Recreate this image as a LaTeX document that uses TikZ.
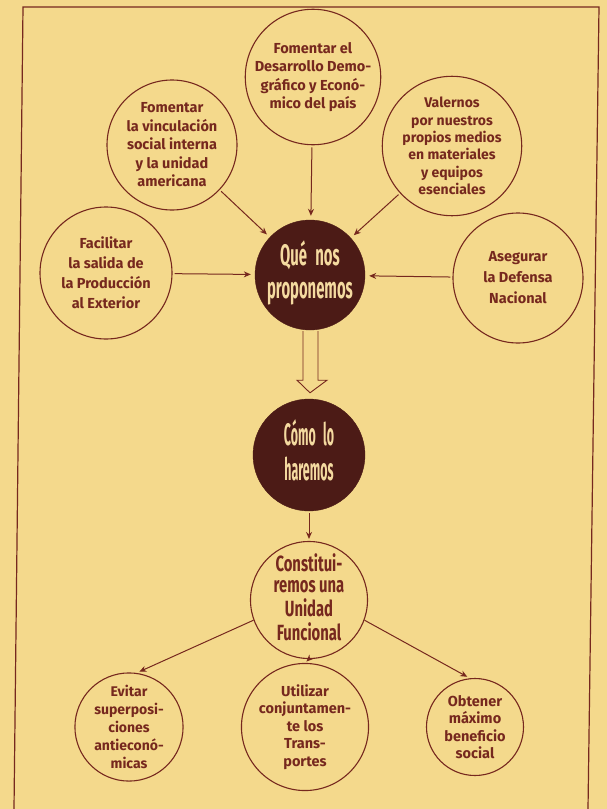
\documentclass[tikz,border=0pt]{standalone}
\usepackage{fontspec}
\newfontfamily\circfont{Fira Sans}
\usetikzlibrary{arrows.meta,calc}
\definecolor{paper}{RGB}{244,217,140}
\definecolor{ink}{RGB}{118,40,30}
\definecolor{darkfill}{RGB}{76,27,22}
\definecolor{cream}{RGB}{244,218,160}
\begin{document}
\begin{tikzpicture}[x=1pt,y=-1pt,
  circ/.style={circle, draw=ink, line width=1.1pt, inner sep=0pt, align=center, text=ink,
    font=\circfont\bfseries\fontsize{14.5}{18.5}\selectfont},
  darkc/.style={circle, fill=darkfill, draw=darkfill, inner sep=0pt, align=center, text=cream,
    font=\circfont\bfseries\fontsize{27}{30}\selectfont},
  condc/.style={circle, draw=ink, line width=1.1pt, inner sep=0pt, align=center, text=ink,
    font=\circfont\bfseries\fontsize{20}{19}\selectfont},
  arr/.style={draw=ink, line width=1pt, -{Stealth[length=7pt,width=6pt]}, shorten <=2pt, shorten >=4pt},
  hollow/.style={draw=ink, line width=0.9pt, fill=paper, line join=miter}
]
\fill[paper] (0,0) rectangle (607,809);
\useasboundingbox (0,0) rectangle (607,809);
\draw[ink, line width=1.2pt] (14,809) -- (23,7) -- (599,7) -- (588,809);

% top ring
\node[circ, minimum size=118pt] (desa) at (313,77) {\raisebox{0pt}{}Fomentar el\\Desarrollo Demo-\\gráfico y Econó-\\mico del país};
\node[circ, minimum size=130pt] (vinc) at (172,145) {Fomentar\\la vinculación\\social interna\\y la unidad\\americana};
\node[circ, minimum size=134pt, font=\circfont\bfseries\fontsize{14}{17.4}\selectfont] (vale) at (452,146) {Valernos\\por nuestros\\propios medios\\en materiales\\y equipos\\esenciales};
\node[circ, minimum size=132pt, font=\circfont\bfseries\fontsize{14.5}{20}\selectfont] (faci) at (106,273) {Facilitar\\la salida de\\la Producción\\al Exterior};
\node[circ, minimum size=130pt, font=\circfont\bfseries\fontsize{14.5}{21}\selectfont] (aseg) at (518,278) {Asegurar\\la Defensa\\Nacional};

% centre
\node[darkc, minimum size=110pt] (que) at (310,275) {\scalebox{0.55}[1.1]{\begin{tabular}{@{}c@{}}Qué\hspace{0.55em}nos\\[0pt]proponemos\end{tabular}}};
\node[darkc, minimum size=112pt] (como) at (309,455) {\scalebox{0.46}[1.15]{\begin{tabular}{@{}c@{}}Cómo\hspace{0.6em}lo\\[0pt]haremos\end{tabular}}};
\node[condc, minimum size=114pt] (cons) at (309,600) {\scalebox{0.74}[1.1]{\begin{tabular}{@{}c@{}}Constitui-\\remos una\\Unidad\\Funcional\end{tabular}}};

% bottom row
\node[circ, minimum size=98pt, font=\circfont\bfseries\fontsize{14}{17.8}\selectfont] (evit) at (129,727) {Evitar\\superposi-\\ciones\\antieconó-\\micas};
\setlength{\fboxsep}{0.6pt}
\node[circ, minimum size=98pt, font=\circfont\bfseries\fontsize{14.5}{17.6}\selectfont] (util) at (305,727) {\colorbox{paper}{Utilizar}\\\colorbox{paper}{conjuntamen-}\\te los\\Trans-\\\colorbox{paper}{portes}};
\node[circ, minimum size=97pt, font=\circfont\bfseries\fontsize{14.5}{17.3}\selectfont] (obte) at (475,727) {Obtener\\máximo\\beneficio\\social};

% connectors into "Qué nos proponemos"
\draw[arr] (desa) -- (que);
\draw[arr] (vinc) -- (que);
\draw[arr] (vale) -- (que);
\draw[arr] (faci) -- (que);
\draw[arr] (aseg) -- (que);

% hollow arrow
\draw[hollow] ($(que.south)+(-7,1)$) -- ($(que.south)+(-7,50)$) -- ($(que.south)+(-13,50)$)
  -- ($(como.north)+(1,-6)$) -- ($(que.south)+(17,50)$) -- ($(que.south)+(8,50)$) -- ($(que.south)+(8,1)$);

\draw[arr, shorten >=2pt] (como) -- (cons);
\draw[arr, shorten <=0pt, shorten >=3pt] (cons.200) -- (evit.82);
\draw[arr, shorten <=0pt, shorten >=2pt] (cons.south) -- (util.north);
\draw[arr, shorten <=0pt, shorten >=3pt] (cons.340) -- (obte.96);
\end{tikzpicture}
\end{document}
